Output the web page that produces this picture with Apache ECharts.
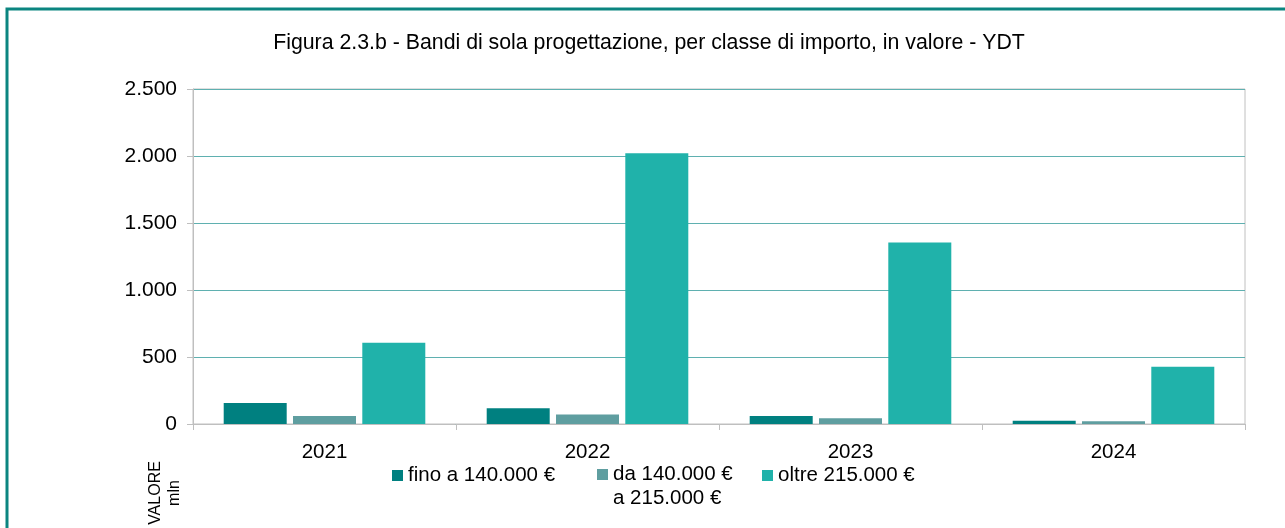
<!DOCTYPE html>
<html>
<head>
<meta charset="utf-8">
<title>Figura 2.3.b</title>
<script src="https://cdn.jsdelivr.net/npm/echarts@6/dist/echarts.min.js"></script>
<style>
  html, body { margin: 0; padding: 0; background: #fff; }
  #chart { width: 1285px; height: 528px; }
</style>
</head>
<body>
<div id="chart"></div>
<script>
// dati (valori in mln di €)
const years = ['2021', '2022', '2023', '2024'];
const seriesNames = ['fino a 140.000 €', 'da 140.000 €\na 215.000 €', 'oltre 215.000 €'];
const fino140 = [157, 117, 60, 25];
const da140a215 = [60, 70, 42, 20];
const oltre215 = [607, 2020, 1355, 428];
const yTicks = [0, 500, 1000, 1500, 2000, 2500];

const colors = ['#008080', '#5f9ea0', '#20b2aa'];
const FONT = '"Liberation Sans", Arial, sans-serif';

const chart = echarts.init(document.getElementById('chart'), null, { renderer: 'canvas' });

// formato italiano: separatore migliaia con il punto
const fmt = (v) => String(v).replace(/\B(?=(\d{3})+(?!\d))/g, '.');

const legendBase = {
  orient: 'horizontal',
  itemWidth: 11,
  itemHeight: 11,
  itemGap: 5,
  icon: 'rect',
  selectedMode: false,
  textStyle: { fontFamily: FONT, fontSize: 20.5, color: '#000', lineHeight: 24 },
};

const option = {
  animation: false,
  backgroundColor: '#fff',
  color: colors,
  title: {
    text: 'Figura 2.3.b - Bandi di sola progettazione, per classe di importo, in valore - YDT',
    left: 644,
    top: 28,
    textAlign: 'center',
    textStyle: { fontFamily: FONT, fontSize: 21.3, fontWeight: 'normal', color: '#000' },
  },
  grid: {
    left: 193,
    right: 40,
    top: 89,
    bottom: 104,
    show: true,
    borderColor: '#c0c0c0',
    borderWidth: 1,
  },
  legend: [
    { ...legendBase, data: [seriesNames[0]], left: 387, top: 458.5 },
    {
      ...legendBase,
      data: [seriesNames[1]],
      left: 592,
      top: 433.5,
      // riga vuota sopra: la prima riga resta allineata al quadratino
      formatter: (name) => '\n' + name,
    },
    { ...legendBase, data: [seriesNames[2]], left: 757, top: 458.5 },
  ],
  xAxis: {
    type: 'category',
    data: years,
    axisLine: { lineStyle: { color: '#bfbfbf', width: 1 } },
    axisTick: { show: true, length: 6, lineStyle: { color: '#bfbfbf' } },
    axisLabel: { fontFamily: FONT, fontSize: 20.5, color: '#000', margin: 18 },
  },
  yAxis: {
    type: 'value',
    min: yTicks[0],
    max: yTicks[yTicks.length - 1],
    interval: 500,
    axisLine: { show: true, lineStyle: { color: '#bfbfbf', width: 1 } },
    axisTick: { show: true, length: 6, lineStyle: { color: '#bfbfbf' } },
    axisLabel: { fontFamily: FONT, fontSize: 21, color: '#000', margin: 16, formatter: fmt },
    splitLine: { show: true, lineStyle: { color: '#5fb0b0', width: 1 } },
  },
  series: [
    { name: seriesNames[0], type: 'bar', data: fino140 },
    { name: seriesNames[1], type: 'bar', data: da140a215 },
    { name: seriesNames[2], type: 'bar', data: oltre215 },
  ].map((s) => ({
    ...s,
    barWidth: 63,
    barGap: '10%',
  })),
  graphic: [
    {
      // cornice verde acqua
      type: 'rect',
      shape: { x: 7, y: 9, width: 1300, height: 600 },
      style: { fill: 'none', stroke: '#0b8580', lineWidth: 3 },
      silent: true,
    },
    {
      type: 'text',
      x: 165,
      y: 493,
      rotation: Math.PI / 2,
      style: {
        text: 'VALORE\nmln',
        fontFamily: FONT,
        fontSize: 16,
        fill: '#000',
        align: 'center',
        verticalAlign: 'middle',
        lineHeight: 19,
      },
    },
  ],
};

chart.setOption(option);
</script>
</body>
</html>
